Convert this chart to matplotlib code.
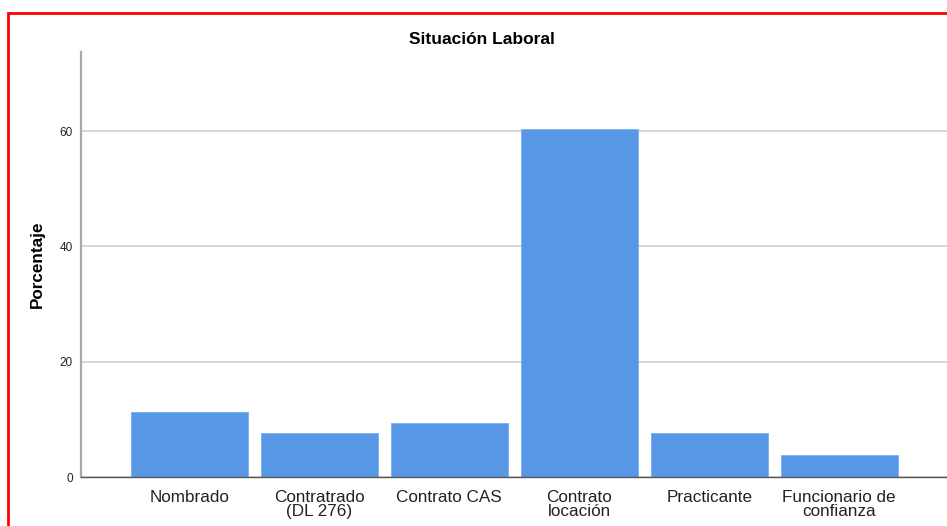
import matplotlib.pyplot as plt
from matplotlib.patches import Rectangle

# datos (porcentaje, n = 53)
categorias = ["Nombrado", "Contratrado\n(DL 276)", "Contrato CAS",
              "Contrato\nlocación", "Practicante", "Funcionario de\nconfianza"]
porcentajes = [11.32, 7.55, 9.43, 60.38, 7.55, 3.77]
yticks = [0, 20, 40, 60]

W, H = 947, 526
fig = plt.figure(figsize=(W / 100, H / 100), dpi=100)
plt.rcParams['font.family'] = ['Liberation Sans', 'DejaVu Sans']

# marco rojo
fig.patches.append(Rectangle((8 / W, -0.1), 1.2, (H - 13) / H + 0.1,
                             transform=fig.transFigure, fill=False,
                             edgecolor='#ff0000', linewidth=2))

ax = fig.add_axes([81 / W, (H - 477) / H, 1 - 81 / W, (477 - 52) / H])
x = list(range(len(categorias)))
ax.bar(x, porcentajes, width=0.9, color='#5897e5', edgecolor='#7aaeee',
       linewidth=0.6, zorder=3)

ax.set_xlim(-0.835, 5.83)
ax.set_ylim(0, 73.7)
ax.set_yticks(yticks)
ax.set_yticklabels([str(v) for v in yticks], fontsize=8.5)
ax.set_xticks(x)
ax.set_xticklabels(categorias, fontsize=12.3, linespacing=0.95)
ax.tick_params(axis='y', length=0, pad=6, colors='#222222')
ax.tick_params(axis='x', length=0, pad=9, colors='#222222')

ax.grid(axis='y', color='#d0d0d0', linewidth=1.2, zorder=0)
for s in ['top', 'right']:
    ax.spines[s].set_visible(False)
ax.spines['left'].set_color('#a8a8a8')
ax.spines['left'].set_linewidth(1.6)
ax.spines['bottom'].set_color('#555555')
ax.spines['bottom'].set_linewidth(1.0)
ax.spines['bottom'].set_zorder(4)

fig.text(482 / W, 1 - 40 / H, "Situación Laboral", ha='center', va='center',
         fontsize=12.5, fontweight='bold')
fig.text(37 / W, 1 - 264 / H, "Porcentaje", ha='center', va='center',
         rotation=90, fontsize=12.3, fontweight='bold')

fig.savefig("out.png", dpi=100)
